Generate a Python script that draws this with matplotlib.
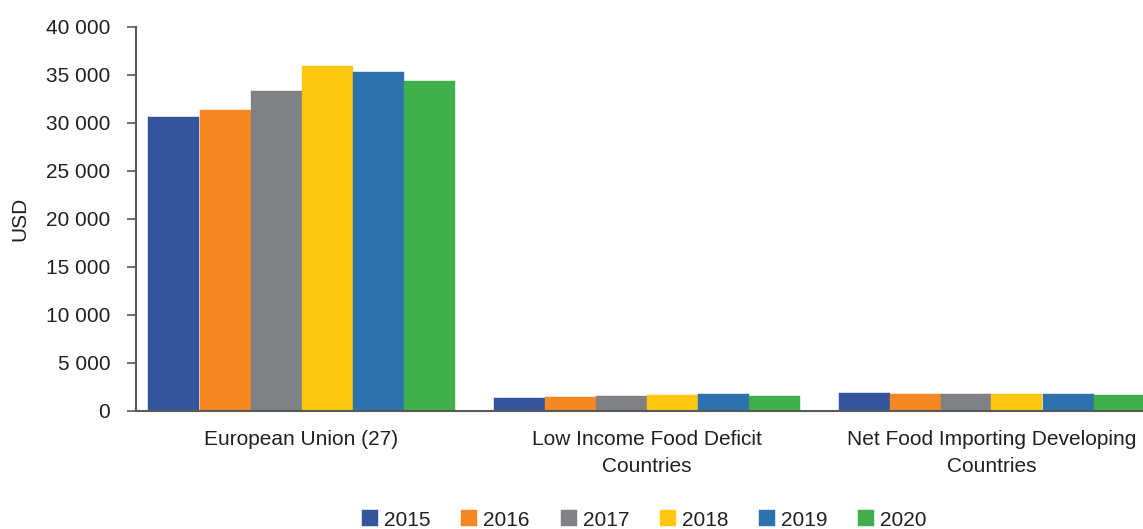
import matplotlib
matplotlib.use("Agg")
import matplotlib.pyplot as plt
import numpy as np

plt.rcParams['font.family'] = ['Liberation Sans', 'DejaVu Sans']

categories = ["European Union (27)", "Low Income Food Deficit\nCountries",
              "Net Food Importing Developing\nCountries"]
years = ["2015", "2016", "2017", "2018", "2019", "2020"]
values = {
    "2015": [30600, 1350, 1870],
    "2016": [31320, 1450, 1770],
    "2017": [33300, 1560, 1770],
    "2018": [35900, 1670, 1770],
    "2019": [35280, 1770, 1770],
    "2020": [34340, 1560, 1670],
}
colors = ["#34559c", "#f58823", "#808184", "#fdc70e", "#2e72ad", "#40ae4a"]
yticks = [0, 5000, 10000, 15000, 20000, 25000, 30000, 35000, 40000]

FS = 15
fig = plt.figure(figsize=(11.43, 5.29), dpi=100)
ax = fig.add_axes([136/1143, (529-411)/529, 1 - 136/1143, (411-27)/529])

x = np.arange(len(categories))
bw = 51/345
for i, (yr, c) in enumerate(zip(years, colors)):
    ax.bar(x + (i - 2.5) * bw, values[yr], width=bw, color=c, label=yr,
           edgecolor=c, linewidth=0.3)

ax.set_xlim((136 - 301.5)/345, (1143 - 301.5)/345)
ax.set_ylim(0, 40000)
ax.set_yticks(yticks)
ax.set_yticklabels([f"{v:,}".replace(",", " ") for v in yticks], fontsize=FS, color="#231f20")
ax.set_xticks(x)
ax.set_xticklabels(categories, fontsize=FS, color="#231f20", linespacing=1.5)
ax.tick_params(axis='x', length=0, pad=14)
ax.tick_params(axis='y', length=6.5, width=1.2, color="#595959", pad=12, direction='out')
for s in ["top", "right"]:
    ax.spines[s].set_visible(False)
for s in ["left", "bottom"]:
    ax.spines[s].set_color("#595959")
    ax.spines[s].set_linewidth(1.5)

fig.text(20/1143, 1 - 219/529, "USD", rotation=90, fontsize=FS, color="#231f20",
         ha='center', va='center')

leg = fig.legend(loc='center', bbox_to_anchor=(644.5/1143, 1 - 520/529), ncol=6,
                 frameon=False, fontsize=FS, handlelength=0.77, handleheight=0.77,
                 handletextpad=0.29, columnspacing=1.47, borderaxespad=0)
for t in leg.get_texts():
    t.set_color("#231f20")

fig.savefig("out.png", dpi=100)
